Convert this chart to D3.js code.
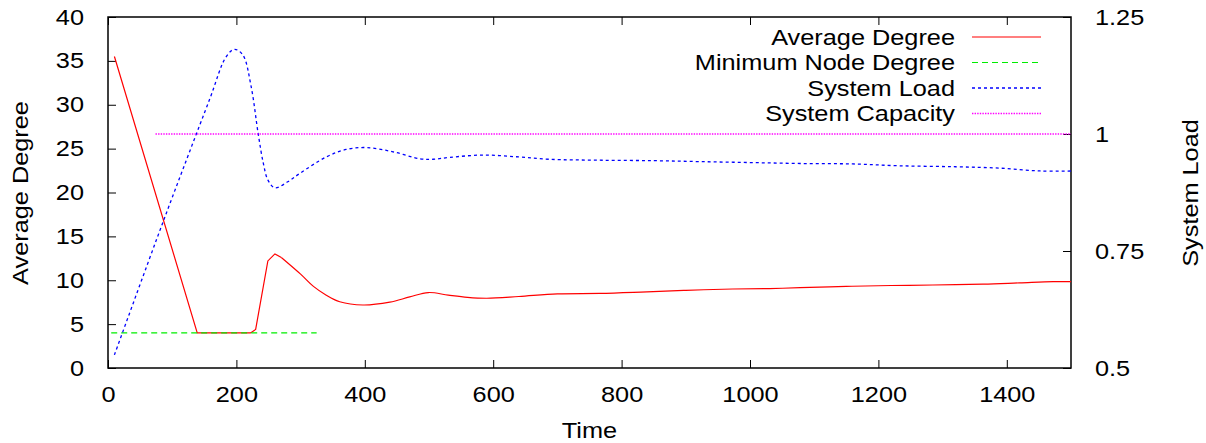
<!DOCTYPE html>
<html>
<head>
<meta charset="utf-8">
<script src="https://cdn.jsdelivr.net/npm/d3@7"></script>
<style>
  body { margin: 0; background: #fff; }
  text { font-family: "Liberation Sans", Arial, sans-serif; font-size: 22px; fill: #000; }
</style>
</head>
<body>
<div id="chart"></div>
<script>
// average degree (left axis)
var degTime = [10, 139, 222, 230, 249, 260, 270, 300, 320, 340, 361, 397, 439, 470, 499, 530, 560, 590, 640, 700, 766, 830, 900, 973, 1030, 1078, 1150, 1220, 1285, 1363, 1420, 1472, 1500];
var degValue = [35.5, 4.0, 4.0, 4.4, 12.2, 13.0, 12.6, 10.7, 9.3, 8.3, 7.55, 7.18, 7.5, 8.1, 8.6, 8.3, 8.05, 7.95, 8.15, 8.45, 8.5, 8.65, 8.85, 9.0, 9.05, 9.15, 9.3, 9.4, 9.46, 9.55, 9.7, 9.84, 9.84];

// minimum node degree (left axis)
var minTime = [5, 325];
var minValue = [4, 4];

// system load (right axis)
var loadTime = [10, 86, 158, 184, 197, 210, 223, 234, 242, 249, 260, 280, 299, 340, 371, 403, 444, 486, 506, 532, 584, 640, 688, 766, 850, 922, 1000, 1078, 1160, 1234, 1320, 1389, 1452, 1500];
var loadValue = [0.528, 0.813, 1.073, 1.165, 1.181, 1.169, 1.101, 1.0, 0.937, 0.902, 0.885, 0.898, 0.916, 0.951, 0.967, 0.971, 0.962, 0.947, 0.946, 0.950, 0.955, 0.951, 0.946, 0.944, 0.943, 0.941, 0.939, 0.937, 0.936, 0.932, 0.930, 0.927, 0.921, 0.921];

// system capacity (right axis)
var capTime = [74, 1500];
var capValue = [1, 1];

var xTicks = [0, 200, 400, 600, 800, 1000, 1200, 1400];
var yTicks = [0, 5, 10, 15, 20, 25, 30, 35, 40];
var y2Ticks = [0.5, 0.75, 1, 1.25];

var legendNames = ["Average Degree", "Minimum Node Degree", "System Load", "System Capacity"];

var svgWidth = 1206, svgHeight = 443;
var margin = {top: 17, right: 135, bottom: 75, left: 108};
var width = svgWidth - margin.left - margin.right;
var height = svgHeight - margin.top - margin.bottom;

// the original glyphs are a bit wider than Liberation Sans at this height
var stretch = 1.15;

var svg = d3.select("#chart").append("svg")
  .attr("width", svgWidth)
  .attr("height", svgHeight);

var chartGroup = svg.append("g")
  .attr("transform", `translate(${margin.left}, ${margin.top})`);

var x = d3.scaleLinear().domain([0, 1500]).range([0, width]);
var y = d3.scaleLinear().domain([0, 40]).range([height, 0]);
var y2 = d3.scaleLinear().domain([0.5, 1.25]).range([height, 0]);

var tickLen = 8;

// ticks drawn inward, gnuplot style
function styleAxis(g) {
  g.select(".domain").remove();
  g.selectAll(".tick line").attr("stroke", "#000").attr("stroke-width", 1);
  g.selectAll(".tick text").style("font-size", "22px").attr("fill", "#000");
}

chartGroup.append("g")
  .attr("transform", `translate(0, ${height})`)
  .call(d3.axisBottom(x).tickValues(xTicks).tickSizeInner(-tickLen).tickSizeOuter(0).tickPadding(18).tickFormat(d3.format("d")))
  .call(styleAxis);

chartGroup.append("g")
  .call(d3.axisTop(x).tickValues(xTicks).tickSizeInner(-tickLen).tickSizeOuter(0).tickFormat(""))
  .call(styleAxis);

chartGroup.append("g")
  .call(d3.axisLeft(y).tickValues(yTicks).tickSizeInner(-tickLen).tickSizeOuter(0).tickPadding(24).tickFormat(d3.format("d")))
  .call(styleAxis);

chartGroup.append("g")
  .attr("transform", `translate(${width}, 0)`)
  .call(d3.axisRight(y2).tickValues(y2Ticks).tickSizeInner(-tickLen).tickSizeOuter(0).tickPadding(24).tickFormat(d => String(d)))
  .call(styleAxis);

// frame
chartGroup.append("rect")
  .attr("width", width)
  .attr("height", height)
  .attr("fill", "none")
  .attr("stroke", "#000")
  .attr("stroke-width", 1.5);

// series
var lineLeft = d3.line().x(d => x(d[0])).y(d => y(d[1]));
var lineRight = d3.line().x(d => x(d[0])).y(d => y2(d[1]));
var lineRightSmooth = d3.line().x(d => x(d[0])).y(d => y2(d[1])).curve(d3.curveCatmullRom);
var lineLeftSmooth = d3.line().x(d => x(d[0])).y(d => y(d[1])).curve(d3.curveCatmullRom);

var series = [
  {name: legendNames[0], color: "#ff0000", dash: null, width: 1.2, data: d3.zip(degTime, degValue), gen: lineLeftSmooth},
  {name: legendNames[1], color: "#00ee00", dash: "6,4", width: 1.2, data: d3.zip(minTime, minValue), gen: lineLeft},
  {name: legendNames[2], color: "#0000ff", dash: "3,3", width: 1.3, data: d3.zip(loadTime, loadValue), gen: lineRightSmooth},
  {name: legendNames[3], color: "#ff00ff", dash: "1.4,1.2", width: 1.4, data: d3.zip(capTime, capValue), gen: lineRight}
];

// red has sharp corners in the first part, keep those linear
var redSharp = d3.zip(degTime, degValue).slice(0, 7);
var redSmooth = d3.zip(degTime, degValue).slice(6);

var plot = chartGroup.append("g");

plot.append("path")
  .attr("d", lineLeft(redSharp))
  .attr("fill", "none").attr("stroke", "#ff0000").attr("stroke-width", 1.2);
plot.append("path")
  .attr("d", lineLeftSmooth(redSmooth))
  .attr("fill", "none").attr("stroke", "#ff0000").attr("stroke-width", 1.2);

series.slice(1).forEach(function(s) {
  plot.append("path")
    .attr("d", s.gen(s.data))
    .attr("fill", "none")
    .attr("stroke", s.color)
    .attr("stroke-width", s.width)
    .attr("stroke-dasharray", s.dash);
});

// legend
var legend = chartGroup.append("g");
series.forEach(function(s, i) {
  var ly = 20 + i * 25.5;
  legend.append("text")
    .attr("x", 955 - margin.left)
    .attr("y", ly)
    .attr("dy", "0.35em")
    .attr("text-anchor", "end")
    .text(s.name);
  legend.append("line")
    .attr("x1", 972 - margin.left)
    .attr("x2", 1041 - margin.left)
    .attr("y1", ly)
    .attr("y2", ly)
    .attr("stroke", s.color)
    .attr("stroke-width", s.width)
    .attr("stroke-dasharray", s.dash);
});

// axis titles
svg.append("text")
  .attr("x", margin.left + width / 2)
  .attr("y", 438)
  .attr("text-anchor", "middle")
  .text("Time");

svg.append("text")
  .attr("transform", "translate(20, 193) rotate(-90)")
  .attr("dy", "0.35em")
  .attr("text-anchor", "middle")
  .text("Average Degree");

svg.append("text")
  .attr("transform", "translate(1190, 193) rotate(-90)")
  .attr("dy", "0.35em")
  .attr("text-anchor", "middle")
  .text("System Load");

// widen every label a little
svg.selectAll("text").each(function() {
  var len = this.getComputedTextLength();
  d3.select(this)
    .attr("textLength", len * stretch)
    .attr("lengthAdjust", "spacingAndGlyphs");
});
</script>
</body>
</html>
